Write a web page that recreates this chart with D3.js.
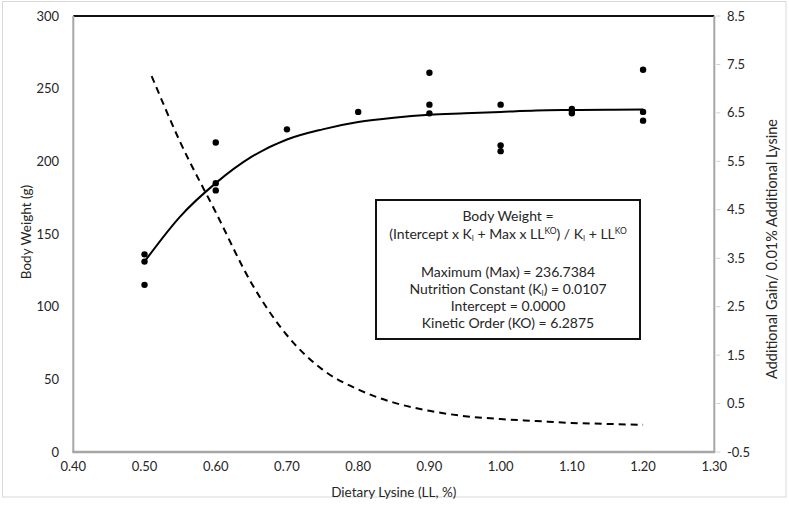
<!DOCTYPE html>
<html>
<head>
<meta charset="utf-8">
<script src="https://cdn.jsdelivr.net/npm/d3@7/dist/d3.min.js"></script>
<style>
  body { margin: 0; background: #fff; }
  svg { display: block; font-family: Lato, 'Open Sans', sans-serif; }
</style>
</head>
<body>
<div id="chart"></div>
<script>
// observed body weights
const obsLysine = [0.5, 0.5, 0.5, 0.6, 0.6, 0.6, 0.7, 0.8, 0.9, 0.9, 0.9, 1.0, 1.0, 1.0, 1.1, 1.1, 1.1, 1.2, 1.2, 1.2];
const obsWeight = [136, 131, 115, 213, 185, 180, 222, 234, 261, 239, 233, 239, 211, 207, 236, 235, 233, 263, 234, 228];

// fitted curve
const fitLysine = [0.50, 0.55, 0.60, 0.65, 0.70, 0.75, 0.80, 0.85, 0.90, 0.95, 1.00, 1.05, 1.10, 1.15, 1.20];
const fitWeight = [131, 162, 185, 203, 215, 222, 227, 230, 232, 233, 234, 235, 235.3, 235.5, 235.6];

// additional gain per 0.01% lysine (right axis)
const gainLysine = [0.51, 0.55, 0.60, 0.65, 0.70, 0.75, 0.80, 0.85, 0.90, 0.95, 1.00, 1.05, 1.10, 1.15, 1.20];
const gainValue = [7.26, 5.9, 4.45, 2.99, 1.91, 1.2, 0.79, 0.52, 0.35, 0.24, 0.18, 0.14, 0.10, 0.08, 0.06];

const xTicks = [0.4, 0.5, 0.6, 0.7, 0.8, 0.9, 1.0, 1.1, 1.2, 1.3];
const yTicks = [0, 50, 100, 150, 200, 250, 300];
const y2Ticks = [-0.5, 0.5, 1.5, 2.5, 3.5, 4.5, 5.5, 6.5, 7.5, 8.5];

const width = 789, height = 516;
const plot = { left: 73.3, right: 714.3, top: 16, bottom: 452 };

const svg = d3.select('#chart').append('svg')
    .attr('width', width)
    .attr('height', height);

// outer chart frame
svg.append('rect')
    .attr('x', 2.5).attr('y', 1.5)
    .attr('width', 783.5).attr('height', 495.5)
    .attr('fill', '#fff')
    .attr('stroke', '#d9d9d9')
    .attr('stroke-width', 1);

const x = d3.scaleLinear().domain([0.4, 1.3]).range([plot.left, plot.right]);
const y = d3.scaleLinear().domain([0, 300]).range([plot.bottom, plot.top]);
const y2 = d3.scaleLinear().domain([-0.5, 8.5]).range([plot.bottom, plot.top]);

const textColor = '#262626';

// axis lines
const axisGrey = '#a6a6a6';
svg.append('line')
    .attr('x1', plot.left).attr('x2', plot.right)
    .attr('y1', plot.top).attr('y2', plot.top)
    .attr('stroke', '#111').attr('stroke-width', 2);
svg.append('line')
    .attr('x1', plot.left).attr('x2', plot.left)
    .attr('y1', plot.top).attr('y2', plot.bottom)
    .attr('stroke', axisGrey).attr('stroke-width', 2);
svg.append('line')
    .attr('x1', plot.right).attr('x2', plot.right)
    .attr('y1', plot.top).attr('y2', plot.bottom)
    .attr('stroke', axisGrey).attr('stroke-width', 2);
svg.append('line')
    .attr('x1', plot.left - 1).attr('x2', plot.right + 1)
    .attr('y1', plot.bottom).attr('y2', plot.bottom)
    .attr('stroke', axisGrey).attr('stroke-width', 2.5);

// left axis labels
svg.selectAll('.ytick')
    .data(yTicks)
    .enter()
    .append('text')
    .attr('x', 59)
    .attr('y', d => y(d))
    .attr('dy', '0.35em')
    .attr('text-anchor', 'end')
    .style('font-size', '13px')
    .style('fill', textColor)
    .text(d => d);

// right axis ticks + labels
svg.selectAll('.y2mark')
    .data(y2Ticks)
    .enter()
    .append('line')
    .attr('x1', plot.right + 2).attr('x2', plot.right + 6)
    .attr('y1', d => y2(d)).attr('y2', d => y2(d))
    .attr('stroke', '#d0d0d0').attr('stroke-width', 1);

svg.selectAll('.y2tick')
    .data(y2Ticks)
    .enter()
    .append('text')
    .attr('x', 727)
    .attr('y', d => y2(d))
    .attr('dy', '0.35em')
    .attr('text-anchor', 'start')
    .style('font-size', '13px')
    .style('fill', textColor)
    .text(d => d.toFixed(1));

// x axis labels
svg.selectAll('.xtick')
    .data(xTicks)
    .enter()
    .append('text')
    .attr('x', d => x(d))
    .attr('y', 466)
    .attr('dy', '0.35em')
    .attr('text-anchor', 'middle')
    .style('font-size', '13px')
    .style('fill', textColor)
    .text(d => d.toFixed(2));

// axis titles
svg.append('text')
    .attr('x', x(0.85))
    .attr('y', 492)
    .attr('dy', '0.35em')
    .attr('text-anchor', 'middle')
    .style('font-size', '13.5px')
    .style('fill', textColor)
    .text('Dietary Lysine (LL, %)');

svg.append('text')
    .attr('transform', 'translate(26,232) rotate(-90)')
    .attr('dy', '0.35em')
    .attr('text-anchor', 'middle')
    .style('font-size', '13.5px')
    .style('fill', textColor)
    .text('Body Weight (g)');

svg.append('text')
    .attr('transform', 'translate(772,249) rotate(-90)')
    .attr('dy', '0.35em')
    .attr('text-anchor', 'middle')
    .style('font-size', '14.5px')
    .style('fill', textColor)
    .text('Additional Gain/ 0.01% Additional Lysine');

// dashed gain curve
const gainLine = d3.line()
    .x((d, i) => x(gainLysine[i]))
    .y(d => y2(d))
    .curve(d3.curveMonotoneX);

svg.append('path')
    .attr('d', gainLine(gainValue))
    .attr('fill', 'none')
    .attr('stroke', '#000')
    .attr('stroke-width', 2)
    .attr('stroke-dasharray', '7,5');

// fitted body weight curve
const fitLine = d3.line()
    .x((d, i) => x(fitLysine[i]))
    .y(d => y(d))
    .curve(d3.curveMonotoneX);

svg.append('path')
    .attr('d', fitLine(fitWeight))
    .attr('fill', 'none')
    .attr('stroke', '#000')
    .attr('stroke-width', 2);

// observed points
svg.selectAll('.pt')
    .data(obsWeight)
    .enter()
    .append('circle')
    .attr('cx', (d, i) => x(obsLysine[i]))
    .attr('cy', d => y(d))
    .attr('r', 3.2)
    .attr('fill', '#000');

// equation box
const box = { x: 376, y: 200, w: 264, h: 139 };
svg.append('rect')
    .attr('x', box.x).attr('y', box.y)
    .attr('width', box.w).attr('height', box.h)
    .attr('fill', '#fff')
    .attr('stroke', '#111')
    .attr('stroke-width', 2);

const cx = box.x + box.w / 2;
const boxText = (yy) => svg.append('text')
    .attr('x', cx)
    .attr('y', yy)
    .attr('dy', '0.35em')
    .attr('text-anchor', 'middle')
    .style('font-size', '14px')
    .style('fill', textColor);

boxText(216).text('Body Weight =');

const eq = boxText(234);
eq.append('tspan').text('(Intercept x K');
eq.append('tspan').attr('dy', 2).style('font-size', '7.5px').text('I');
eq.append('tspan').attr('dy', -2).text(' + Max x LL');
eq.append('tspan').attr('dy', -5).style('font-size', '8.5px').text('KO');
eq.append('tspan').attr('dy', 5).text(') /  K');
eq.append('tspan').attr('dy', 2).style('font-size', '7.5px').text('I');
eq.append('tspan').attr('dy', -2).text(' + LL');
eq.append('tspan').attr('dy', -5).style('font-size', '8.5px').text('KO');

boxText(272.5).text('Maximum (Max) = 236.7384');

const kline = boxText(289.5);
kline.append('tspan').text('Nutrition Constant (K');
kline.append('tspan').attr('dy', 2).style('font-size', '7.5px').text('I');
kline.append('tspan').attr('dy', -2).text(') = 0.0107');

boxText(306.5).text('Intercept = 0.0000');
boxText(323.5).text('Kinetic Order (KO) = 6.2875');
</script>
</body>
</html>
